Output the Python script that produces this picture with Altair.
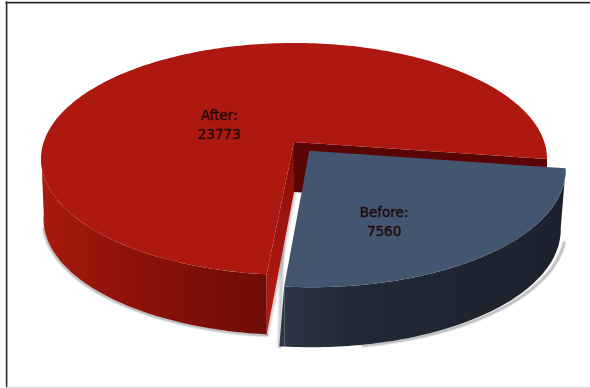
import math
import altair as alt
import pandas as pd

# Counts shown on the two slices
categories = ["Before", "After"]
counts = [7560, 23773]

W, H = 590, 388

# Projection of the unit disk onto the page: tilted ellipse with perspective
CX, CY, A, B = 294.0, 159.0, 253.0, 116.0
T = 0.147
START_DEG = -8.5
EXPLODE = 0.098
DEPTH = 60.0
INNER_DEPTH = 50.0


def project(px, py):
    d = 1 + T * py
    xp = px * math.sqrt(1 - T * T) / d
    yp = (py + T) / d
    return CX + A * xp, CY - B * yp


share = counts[0] / sum(counts)
sweep = 360.0 * share
end_deg = START_DEG - sweep
mid = math.radians((START_DEG + end_deg) / 2)
off_x, off_y = EXPLODE * math.cos(mid), EXPLODE * math.sin(mid)


def arc(a0, a1, n, ox=0.0, oy=0.0):
    return [
        project(math.cos(math.radians(a0 + (a1 - a0) * i / n)) + ox,
                math.sin(math.radians(a0 + (a1 - a0) * i / n)) + oy)
        for i in range(n + 1)
    ]


def drop(points, depth, lean):
    return [(CX + (x - CX) * lean, y + depth) for x, y in points]


def frame(points, close=True):
    pts = list(points) + ([points[0]] if close else [])
    return pd.DataFrame({"x": [p[0] for p in pts], "y": [p[1] for p in pts], "i": range(len(pts))})


x_enc = alt.X("x:Q", scale=alt.Scale(domain=[0, W], nice=False, zero=False), axis=None)
y_enc = alt.Y("y:Q", scale=alt.Scale(domain=[H, 0], nice=False, zero=False), axis=None)


def shape(points, fill):
    return alt.Chart(frame(points)).mark_line(
        fill=fill, stroke="#00000000", strokeWidth=0, interpolate="linear"
    ).encode(x=x_enc, y=y_enc, order="i:Q")


def stroke(points, color, width, opacity):
    return alt.Chart(frame(points, close=False)).mark_line(
        stroke=color, strokeWidth=width, opacity=opacity, strokeCap="round"
    ).encode(x=x_enc, y=y_enc, order="i:Q")


def h_gradient(stops):
    return alt.Gradient(
        gradient="linear", x1=0, x2=1, y1=0, y2=0,
        stops=[alt.GradientStop(color=c, offset=o) for o, c in stops],
    )


def v_gradient(stops):
    return alt.Gradient(
        gradient="linear", x1=0, x2=0, y1=0, y2=1,
        stops=[alt.GradientStop(color=c, offset=o) for o, c in stops],
    )


# Key outlines
red_apex = project(0, 0)
red_top_arc = arc(START_DEG, end_deg + 360, 240)
red_front_arc = arc(186, end_deg + 360, 90)
red_right, red_cut = red_top_arc[0], red_top_arc[-1]

blue_apex = project(off_x, off_y)
blue_arc = arc(START_DEG, end_deg, 90, off_x, off_y)
blue_left = blue_arc[-1]

layers = []

# Page frame
frame_rules = [
    ([(6, 2.6), (W, 2.6)], "#2a2a2a", 1.6, 1),
    ([(6.6, 2), (6.6, 387)], "#2a2a2a", 1.6, 1),
    ([(7, 387.6), (W, 387.6)], "#dcdcdc", 1.6, 1),
]
for pts, c, w, o in frame_rules:
    layers.append(stroke(pts, c, w, o))

# Soft shadows beneath the walls
red_bottom = drop(red_front_arc, DEPTH, 0.99)
blue_bottom = drop(blue_arc, DEPTH, 0.982)
n_blue = len(blue_bottom) - 1
blue_shadow = [
    (x + 5.0 * (1 - i / n_blue) ** 1.5, y + 0.5 + 2.0 * (1 - i / n_blue))
    for i, (x, y) in enumerate(blue_bottom)
]
for w, o in [(5, 0.08), (3.5, 0.14), (2, 0.2)]:
    layers.append(stroke([(x - 0.5, y + 0.8) for x, y in red_bottom[8:]], "#555555", w, o))
    layers.append(stroke(blue_shadow[6:75], "#555555", w, o))

# Shadows along the gap between the slices
gap_top = (red_apex[0], red_apex[1] + INNER_DEPTH)
gap_bottom = (red_cut[0], red_cut[1] + DEPTH)
for w, o in [(6, 0.07), (4, 0.1), (2, 0.14)]:
    layers.append(stroke([(gap_top[0] + 0.5, gap_top[1]), (gap_bottom[0] + 0.5, gap_bottom[1])], "#555555", w, o))
    layers.append(stroke([(blue_left[0] - 1, blue_left[1] - 60), (blue_left[0] - 5, blue_left[1] + DEPTH)], "#555555", w, o))

# Red slice: outer wall, cut walls, top face
red_wall = red_front_arc + list(reversed(red_bottom))
layers.append(shape(red_wall, h_gradient([
    (0, "#a8190f"), (0.3, "#931409"), (0.6, "#840f09"), (1, "#6f0d08"),
])))
back_wall = [red_apex, red_right, (red_right[0], red_right[1] + INNER_DEPTH), gap_top]
layers.append(shape(back_wall, "#590505"))
cut_wall = [red_apex, gap_top, gap_bottom, red_cut]
layers.append(shape(cut_wall, v_gradient([(0, "#7c0a08"), (0.35, "#9c130d"), (1, "#b51c13")])))
layers.append(shape([red_apex] + red_top_arc, "#ad1810"))

# Blue slice: outer wall, its leaning left edge and top face
blue_wall = blue_arc + list(reversed(blue_bottom))
layers.append(shape(blue_wall, h_gradient([(0, "#2b3545"), (0.25, "#212936"), (1, "#1c222d")])))
blue_foot = blue_bottom[-1]
layers.append(shape([blue_left, blue_foot, (blue_foot[0] - 5, blue_foot[1])], "#2b3545"))
layers.append(shape([blue_apex] + blue_arc, "#44566f"))

# Slice labels, anchored in disk coordinates
label_anchor = {"Before": (0.326, -0.642), "After": (-0.306, 0.15)}
rows = []
for name, value in zip(categories, counts):
    lx, ly = project(*label_anchor[name])
    rows.append({"x": lx, "y": ly - 9.7, "t": f"{name}:"})
    rows.append({"x": lx, "y": ly + 9.7, "t": str(value)})
layers.append(
    alt.Chart(pd.DataFrame(rows)).mark_text(
        font="DejaVu Sans", fontSize=13.5, color="#200808", stroke="#200808", strokeWidth=0.35,
        align="center", baseline="middle"
    ).encode(x=x_enc, y=y_enc, text="t:N")
)

chart = alt.layer(*layers).properties(
    width=W, height=H, padding=0, autosize=alt.AutoSizeParams(type="none"), background="#ffffff"
).configure_view(stroke=None)

chart.save("out.html", embed_options={"renderer": "svg", "actions": False})
